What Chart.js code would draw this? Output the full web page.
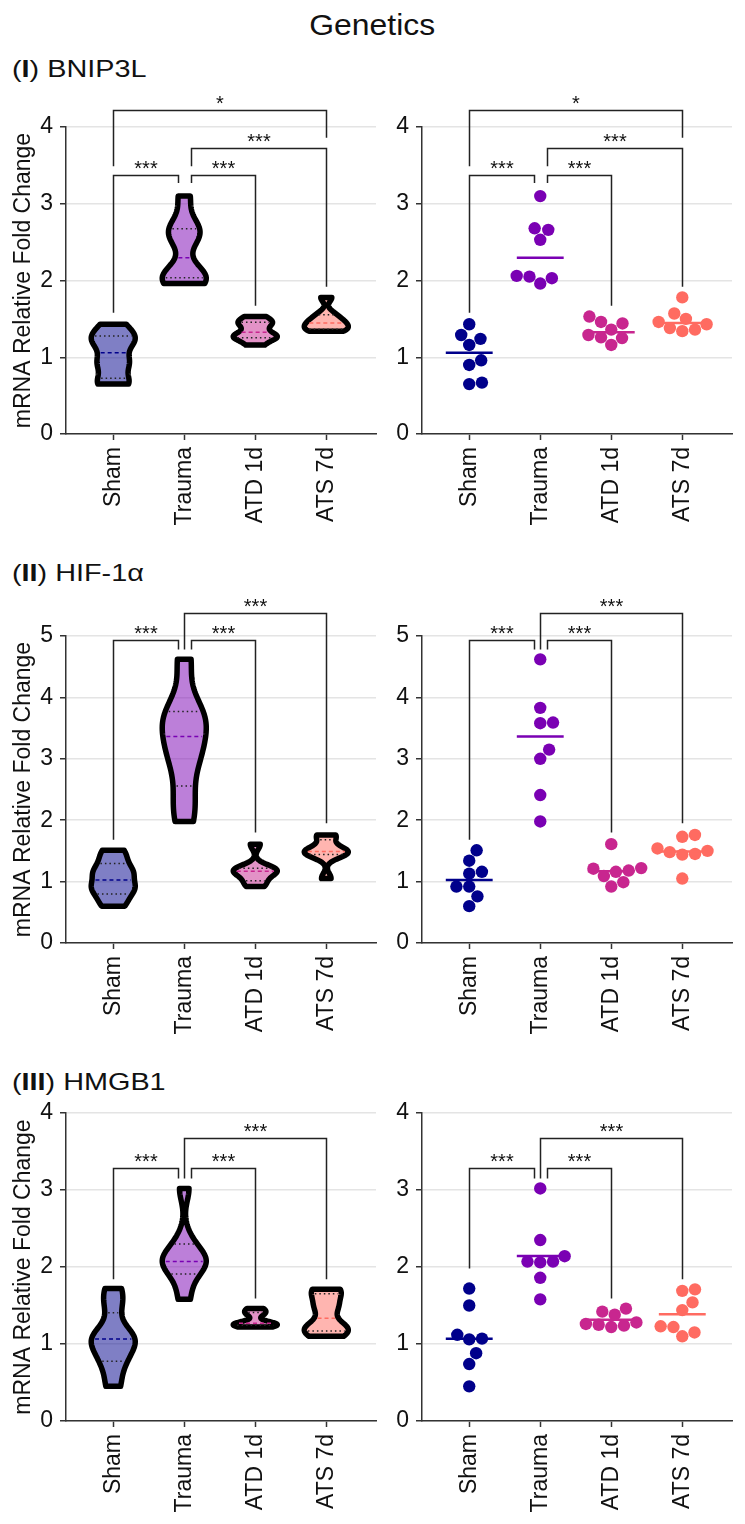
<!DOCTYPE html>
<html>
<head>
<meta charset="utf-8">
<script src="https://cdn.jsdelivr.net/npm/chart.js@4.4.1/dist/chart.umd.min.js"></script>
<style>
  body { margin: 0; background: #fff; }
  #page { position: relative; width: 745px; height: 1524px; font-family: "Liberation Sans", Arial, sans-serif; color: #111; overflow: hidden; }
  canvas { position: absolute; }
  .title { position: absolute; left: 0; top: 11px; width: 745px; text-align: center; font-size: 29px; line-height: 29px; }
  .title span { display: inline-block; transform: scaleX(1.1); }
  .rowLabel { position: absolute; left: 12px; font-size: 24px; line-height: 24px; white-space: nowrap; transform: scaleX(1.2); transform-origin: left center; }
</style>
</head>
<body>
<div id="page">
  <div class="title"><span>Genetics</span></div>
  <div class="rowLabel" style="top:57px">(<b>I</b>) BNIP3L</div>
  <div class="rowLabel" style="top:561px">(<b>II</b>) HIF-1α</div>
  <div class="rowLabel" style="top:1070px">(<b>III</b>) HMGB1</div>
</div>
<script>
// groups and colours
const groups = ['Sham', 'Trauma', 'ATD 1d', 'ATS 7d'];
const groupColours = ['#00008b', '#7a00b3', '#c8268f', '#ff6b61'];
const yAxisTitle = 'mRNA Relative Fold Change';

// (I) BNIP3L
const bnip3lSham = [1.43, 1.29, 1.24, 1.16, 0.96, 0.90, 0.67, 0.65];
const bnip3lTrauma = [3.10, 2.68, 2.66, 2.53, 2.06, 2.05, 2.03, 1.96];
const bnip3lAtd1d = [1.53, 1.46, 1.44, 1.36, 1.29, 1.26, 1.25, 1.16];
const bnip3lAts7d = [1.78, 1.57, 1.50, 1.46, 1.43, 1.38, 1.36, 1.34];
const bnip3lMax = 4;

// (II) HIF-1a
const hifSham = [1.51, 1.34, 1.16, 1.13, 0.92, 0.92, 0.76, 0.60];
const hifTrauma = [4.62, 3.83, 3.59, 3.58, 3.15, 3.00, 2.41, 1.98];
const hifAtd1d = [1.61, 1.22, 1.21, 1.18, 1.16, 1.09, 0.99, 0.92];
const hifAts7d = [1.76, 1.73, 1.54, 1.50, 1.48, 1.45, 1.44, 1.05];
const hifMax = 5;

// (III) HMGB1
const hmgb1Sham = [1.72, 1.50, 1.12, 1.07, 1.06, 0.88, 0.74, 0.45];
const hmgb1Trauma = [3.02, 2.35, 2.14, 2.07, 2.07, 2.06, 1.86, 1.58];
const hmgb1Atd1d = [1.46, 1.42, 1.38, 1.28, 1.26, 1.25, 1.24, 1.22];
const hmgb1Ats7d = [1.71, 1.69, 1.54, 1.44, 1.23, 1.22, 1.15, 1.10];
const hmgb1Max = 4;

// significance brackets: [from, to, top, fromEnd, toEnd, label, fromShift, toShift]
const bnip3lBrackets = [
    [0, 1, 3.38, 1.58, 3.27, '***', 0, -0.09],
    [1, 2, 3.38, 3.27, 1.67, '***', 0.09, 0],
    [1, 3, 3.73, 3.49, 1.92, '***', 0.09, 0],
    [0, 3, 4.22, 3.49, 3.86, '*', 0, 0]
];
const hifBrackets = [
    [0, 1, 4.93, 1.68, 4.78, '***', 0, -0.09],
    [1, 2, 4.93, 4.78, 1.80, '***', 0.09, 0],
    [1, 3, 5.38, 4.78, 1.95, '***', 0, 0]
];
const hmgb1BracketsLeft = [
    [0, 1, 3.28, 1.84, 3.15, '***', 0, -0.09],
    [1, 2, 3.28, 3.15, 1.59, '***', 0.09, 0],
    [1, 3, 3.67, 3.15, 1.84, '***', 0, 0]
];
const hmgb1BracketsRight = [
    [0, 1, 3.28, 1.98, 3.15, '***', 0, -0.09],
    [1, 2, 3.28, 3.15, 1.59, '***', 0.09, 0],
    [1, 3, 3.67, 3.15, 1.84, '***', 0, 0]
];

const rows = [
    { top: 127, height: 307, yMax: bnip3lMax, sets: [bnip3lSham, bnip3lTrauma, bnip3lAtd1d, bnip3lAts7d], centre: 'median', brackets: [bnip3lBrackets, bnip3lBrackets] },
    { top: 636, height: 307, yMax: hifMax, sets: [hifSham, hifTrauma, hifAtd1d, hifAts7d], centre: 'median', brackets: [hifBrackets, hifBrackets] },
    { top: 1113, height: 308, yMax: hmgb1Max, sets: [hmgb1Sham, hmgb1Trauma, hmgb1Atd1d, hmgb1Ats7d], centre: 'mean', brackets: [hmgb1BracketsLeft, hmgb1BracketsRight] }
];

Chart.defaults.font.family = '"Liberation Sans", Arial, sans-serif';
Chart.defaults.color = '#111';

const xMin = -0.665;
const xMax = 3.70;
const padTop = 50;
const xAxisHeight = 100;

function mean(a) {
    return a.reduce((s, v) => s + v, 0) / a.length;
}

function stdev(a) {
    const m = mean(a);
    return Math.sqrt(a.reduce((s, v) => s + (v - m) ** 2, 0) / (a.length - 1));
}

// prism style quartiles, (n+1)p
function quantile(values, p) {
    const s = [...values].sort((a, b) => a - b);
    const pos = (s.length + 1) * p;
    const lo = Math.floor(pos);
    if (lo < 1) return s[0];
    if (lo >= s.length) return s[s.length - 1];
    return s[lo - 1] + (pos - lo) * (s[lo] - s[lo - 1]);
}

function withAlpha(hex, a) {
    const n = parseInt(hex.slice(1), 16);
    return `rgba(${(n >> 16) & 255}, ${(n >> 8) & 255}, ${n & 255}, ${a})`;
}

// kernel density of a group, cut at min and max like the original
function violinProfile(values) {
    const h = 0.4 * stdev(values);
    const lo = Math.min(...values);
    const hi = Math.max(...values);
    const prof = [];
    for (let k = 0; k <= 90; k++) {
        const y = lo + (hi - lo) * k / 90;
        let d = 0;
        values.forEach(v => { d += Math.exp(-0.5 * ((y - v) / h) ** 2); });
        prof.push({ y, d });
    }
    const top = Math.max(...prof.map(p => p.d));
    prof.forEach(p => { p.d /= top; });
    return prof;
}

function densityAt(prof, y) {
    for (let k = 1; k < prof.length; k++) {
        if (y <= prof[k].y) {
            const t = (y - prof[k - 1].y) / (prof[k].y - prof[k - 1].y);
            return prof[k - 1].d + t * (prof[k].d - prof[k - 1].d);
        }
    }
    return prof[prof.length - 1].d;
}

function violinPlugin(sets) {
    return {
        id: 'violins',
        afterDatasetsDraw(chart) {
            const { ctx } = chart;
            const xs = chart.scales.x;
            const ys = chart.scales.y;
            const half = 0.31;
            sets.forEach((values, gi) => {
                const prof = violinProfile(values);
                ctx.save();
                ctx.beginPath();
                prof.forEach((p, k) => {
                    const px = xs.getPixelForValue(gi + half * p.d);
                    const py = ys.getPixelForValue(p.y);
                    if (k === 0) ctx.moveTo(px, py); else ctx.lineTo(px, py);
                });
                for (let k = prof.length - 1; k >= 0; k--) {
                    ctx.lineTo(xs.getPixelForValue(gi - half * prof[k].d), ys.getPixelForValue(prof[k].y));
                }
                ctx.closePath();
                ctx.fillStyle = withAlpha(groupColours[gi], 0.5);
                ctx.fill();
                ctx.lineWidth = 5.5;
                ctx.lineJoin = 'round';
                ctx.strokeStyle = '#000';
                ctx.stroke();

                // median dashed, quartiles dotted
                const lines = [
                    { v: quantile(values, 0.25), colour: '#222', dash: [1.5, 3] },
                    { v: quantile(values, 0.75), colour: '#222', dash: [1.5, 3] },
                    { v: quantile(values, 0.5), colour: groupColours[gi], dash: [4, 3] }
                ];
                lines.forEach(l => {
                    const w = half * densityAt(prof, l.v);
                    const py = ys.getPixelForValue(l.v);
                    ctx.beginPath();
                    ctx.setLineDash(l.dash);
                    ctx.lineWidth = 1.5;
                    ctx.strokeStyle = l.colour;
                    ctx.moveTo(xs.getPixelForValue(gi - w) + 3.5, py);
                    ctx.lineTo(xs.getPixelForValue(gi + w) - 3.5, py);
                    ctx.stroke();
                });
                ctx.restore();
            });
        }
    };
}

function centrePlugin(sets, stat) {
    return {
        id: 'centreLines',
        afterDatasetsDraw(chart) {
            const { ctx } = chart;
            const xs = chart.scales.x;
            const ys = chart.scales.y;
            sets.forEach((values, gi) => {
                const v = stat === 'mean' ? mean(values) : quantile(values, 0.5);
                const py = ys.getPixelForValue(v);
                ctx.save();
                ctx.beginPath();
                ctx.lineWidth = 2.5;
                ctx.strokeStyle = groupColours[gi];
                ctx.moveTo(xs.getPixelForValue(gi - 0.33), py);
                ctx.lineTo(xs.getPixelForValue(gi + 0.33), py);
                ctx.stroke();
                ctx.restore();
            });
        }
    };
}

function bracketPlugin(list) {
    return {
        id: 'brackets',
        afterDraw(chart) {
            const { ctx } = chart;
            const xs = chart.scales.x;
            const ys = chart.scales.y;
            ctx.save();
            ctx.strokeStyle = '#222';
            ctx.lineWidth = 1.5;
            ctx.fillStyle = '#111';
            ctx.font = '20px "Liberation Sans", Arial, sans-serif';
            ctx.textAlign = 'center';
            ctx.textBaseline = 'alphabetic';
            list.forEach(([from, to, top, fromEnd, toEnd, label, fromShift, toShift]) => {
                const x1 = Math.round(xs.getPixelForValue(from + fromShift)) + 0.5;
                const x2 = Math.round(xs.getPixelForValue(to + toShift)) + 0.5;
                const yt = Math.round(ys.getPixelForValue(top)) + 0.5;
                ctx.beginPath();
                ctx.moveTo(x1, ys.getPixelForValue(fromEnd));
                ctx.lineTo(x1, yt);
                ctx.lineTo(x2, yt);
                ctx.lineTo(x2, ys.getPixelForValue(toEnd));
                ctx.stroke();
                ctx.fillText(label, (x1 + x2) / 2, yt - 1);
            });
            ctx.restore();
        }
    };
}

// compact beeswarm in pixel space, lowest values placed first
function swarmOffsets(values, ys, radius) {
    const d = 2 * radius + 0.4;
    const order = values.map((v, i) => i).sort((a, b) => values[a] - values[b]);
    const placed = [];
    const offsets = new Array(values.length).fill(0);
    order.forEach(i => {
        const py = ys.getPixelForValue(values[i]);
        const near = placed.filter(p => Math.abs(p.y - py) < d);
        const cands = [0];
        near.forEach(p => {
            const dx = Math.sqrt(d * d - (p.y - py) ** 2);
            cands.push(p.x + dx, p.x - dx);
        });
        cands.sort((a, b) => Math.abs(a) - Math.abs(b));
        const ok = cands.find(c => near.every(p => (c - p.x) ** 2 + (py - p.y) ** 2 >= d * d - 0.01));
        placed.push({ x: ok, y: py });
        offsets[i] = ok;
    });
    return offsets;
}

function makeChart(row, side) {
    const isLeft = side === 0;
    const canvas = document.createElement('canvas');
    const width = isLeft ? 380 : 365;
    const height = padTop + row.height + xAxisHeight;
    canvas.width = width;
    canvas.height = height;
    canvas.style.left = (isLeft ? 0 : 380) + 'px';
    canvas.style.top = (row.top - padTop) + 'px';
    canvas.style.width = width + 'px';
    canvas.style.height = height + 'px';
    document.getElementById('page').appendChild(canvas);

    const datasets = row.sets.map((values, gi) => ({
        data: values.map(v => ({ x: gi, y: v })),
        pointRadius: isLeft ? 0 : 6.2,
        pointHoverRadius: isLeft ? 0 : 6.2,
        pointBackgroundColor: groupColours[gi],
        pointBorderWidth: 0,
        showLine: false
    }));

    const plugins = [bracketPlugin(row.brackets[side])];
    plugins.unshift(isLeft ? violinPlugin(row.sets) : centrePlugin(row.sets, row.centre));

    const chart = new Chart(canvas.getContext('2d'), {
        type: 'scatter',
        data: { datasets },
        options: {
            responsive: false,
            animation: false,
            layout: { padding: { top: padTop, right: isLeft ? 4 : 13, left: 0, bottom: 0 } },
            plugins: { legend: { display: false }, tooltip: { enabled: false } },
            scales: {
                x: {
                    type: 'linear',
                    min: xMin,
                    max: xMax,
                    afterBuildTicks: s => { s.ticks = groups.map((g, i) => ({ value: i })); },
                    afterFit: s => { s.height = xAxisHeight; },
                    ticks: {
                        autoSkip: false,
                        minRotation: 90,
                        maxRotation: 90,
                        padding: 7,
                        color: '#111',
                        font: { size: 23 },
                        callback: v => groups[v]
                    },
                    grid: { drawOnChartArea: false, tickColor: '#333', tickLength: 6, tickWidth: 1.5 },
                    border: { color: '#333', width: 1.5 }
                },
                y: {
                    min: 0,
                    max: row.yMax,
                    afterFit: s => { s.width = isLeft ? 66 : 42; },
                    ticks: { stepSize: 1, padding: 7, color: '#111', font: { size: 23 } },
                    grid: { color: '#e4e4e4', lineWidth: 1.5, tickColor: '#333', tickLength: 6, tickWidth: 1.5 },
                    border: { color: '#333', width: 1.5 },
                    title: {
                        display: isLeft,
                        text: yAxisTitle,
                        color: '#111',
                        font: { size: 23 },
                        padding: { top: 10, bottom: 0 }
                    }
                }
            }
        },
        plugins
    });

    if (!isLeft) {
        const xs = chart.scales.x;
        const unit = xs.getPixelForValue(1) - xs.getPixelForValue(0);
        row.sets.forEach((values, gi) => {
            const off = swarmOffsets(values, chart.scales.y, 6.2);
            chart.data.datasets[gi].data = values.map((v, k) => ({ x: gi + off[k] / unit, y: v }));
        });
        chart.update('none');
    }
    return chart;
}

rows.forEach(row => {
    makeChart(row, 0);
    makeChart(row, 1);
});
</script>
</body>
</html>
